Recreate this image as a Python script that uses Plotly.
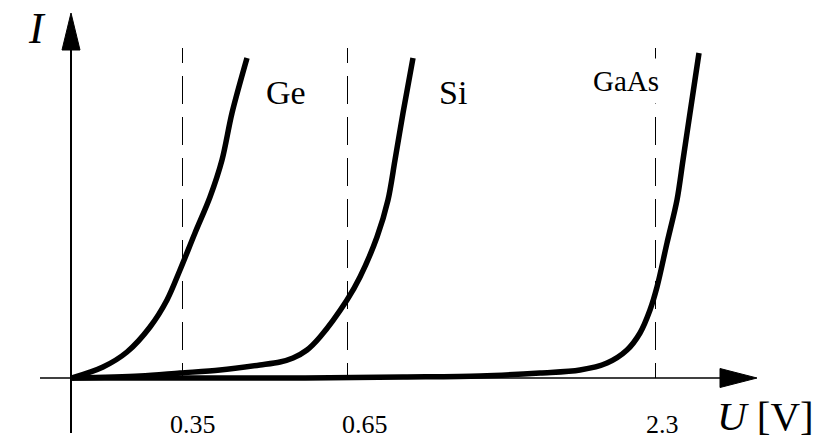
import plotly.graph_objects as go

# ---- data (schematic units: U axis not to scale, I arbitrary) ----
ge_u = [0, 0.31, 0.55, 0.78, 0.95, 1.08, 1.23, 1.38, 1.50, 1.60, 1.75]
ge_i = [0, 0.11, 0.26, 0.51, 0.78, 1.08, 1.45, 1.81, 2.18, 2.65, 3.20]

si_u = [0, 0.68, 1.08, 1.48, 1.88, 2.08, 2.21, 2.35, 2.48, 2.75, 2.88, 3.05, 3.16, 3.23, 3.31, 3.41]
si_i = [0, 0.02, 0.05, 0.08, 0.13, 0.16, 0.20, 0.28, 0.41, 0.78, 1.01, 1.41, 1.78, 2.18, 2.65, 3.20]

gaas_u = [0, 2.28, 3.31, 4.08, 4.68, 5.08, 5.35, 5.55, 5.68, 5.78, 5.85, 5.95, 6.05, 6.11, 6.18, 6.27]
gaas_i = [0, 0.00, 0.01, 0.02, 0.05, 0.08, 0.15, 0.28, 0.45, 0.68, 0.91, 1.35, 1.78, 2.18, 2.65, 3.25]

tick_u = [1.105, 2.755, 5.835]
tick_labels = ["0.35", "0.65", "2.3"]

curve_names = ["Ge", "Si", "GaAs"]

# ---- styling / layout helpers ----
FONT = "Liberation Serif, Times New Roman, serif"
tick_label_dx = [10, 17, 7]
label_pos = [(2.14, 2.86, 34, False), (3.81, 2.86, 34, False), (5.54, 2.97, 29, True)]

fig = go.Figure()

for u, i in [(ge_u, ge_i), (si_u, si_i), (gaas_u, gaas_i)]:
    fig.add_trace(go.Scatter(x=u, y=i, mode="lines",
                             line=dict(color="black", width=5.5, shape="spline", smoothing=0.9),
                             showlegend=False, hoverinfo="skip"))

dash_pattern = "15px,13px," + ",".join(["28px,13px"] * 7) + ",16px,200px"
shapes = []
for tu in tick_u:
    shapes.append(dict(type="line", xref="x", yref="y", x0=tu, y0=0, x1=tu, y1=3.30,
                       line=dict(color="black", width=1, dash=dash_pattern), layer="below"))

# axes lines and arrowheads
shapes.append(dict(type="line", xref="x", yref="y", x0=-0.32, y0=0, x1=6.50, y1=0,
                   line=dict(color="black", width=1.5), layer="below"))
shapes.append(dict(type="line", xref="x", yref="y", x0=-0.01, y0=-0.55, x1=-0.01, y1=3.30,
                   line=dict(color="black", width=2), layer="below"))
shapes.append(dict(type="path", xref="x", yref="y",
                   path="M 6.85,0 L 6.48,0.095 L 6.48,-0.095 Z",
                   fillcolor="black", line=dict(color="black", width=1)))
shapes.append(dict(type="path", xref="x", yref="y",
                   path="M -0.01,3.65 L 0.08,3.28 L -0.10,3.28 Z",
                   fillcolor="black", line=dict(color="black", width=1)))

annotations = []
for tu, lab, dx in zip(tick_u, tick_labels, tick_label_dx):
    annotations.append(dict(x=tu, y=-0.46, text=lab, showarrow=False, xshift=dx,
                            xanchor="center", yanchor="middle",
                            font=dict(family=FONT, size=26, color="black")))

for name, (lx, ly, fs, bg) in zip(curve_names, label_pos):
    a = dict(x=lx, y=ly, text=name, showarrow=False, xanchor="center", yanchor="middle",
             font=dict(family=FONT, size=fs, color="black"))
    if bg:
        a.update(bgcolor="white", borderpad=6)
    annotations.append(a)

annotations.append(dict(x=-0.35, y=3.50, text="<i>I</i>", showarrow=False,
                        xanchor="center", yanchor="middle",
                        font=dict(family=FONT, size=44, color="black")))
annotations.append(dict(x=6.93, y=-0.38, text="<i>U</i> [V]", showarrow=False,
                        xanchor="center", yanchor="middle",
                        font=dict(family=FONT, size=41, color="black")))

fig.update_layout(
    width=821, height=438,
    margin=dict(l=0, r=0, t=0, b=0),
    paper_bgcolor="white", plot_bgcolor="white",
    xaxis=dict(range=[-0.72, 7.49], visible=False, fixedrange=True),
    yaxis=dict(range=[-0.60, 3.78], visible=False, fixedrange=True),
    shapes=shapes, annotations=annotations, showlegend=False,
)

fig.write_html("out.html", config={"displayModeBar": False},
               post_script="document.body.style.margin='0';document.body.style.overflow='hidden';")
